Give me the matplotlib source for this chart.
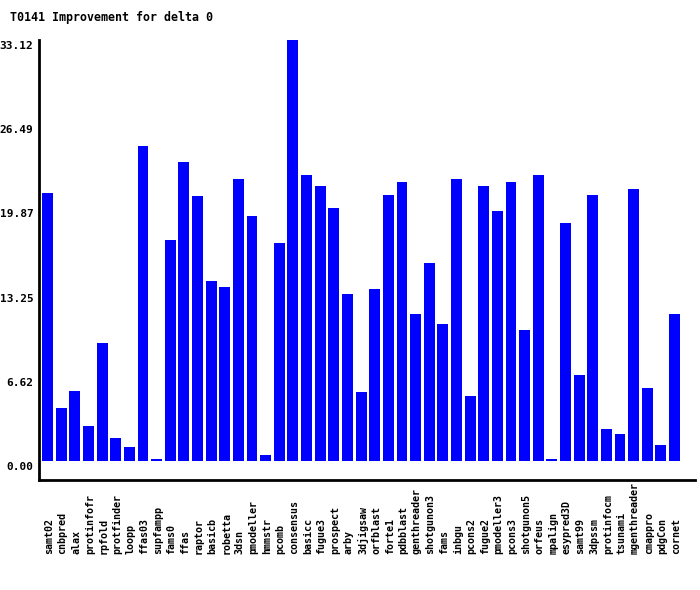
import numpy as np
import matplotlib.pyplot as plt
import matplotlib.transforms as mtransforms


names = ['samt02', 'cnbpred', 'alax', 'protinfofr', 'rpfold', 'protfinder', 'loopp',
         'ffas03', 'supfampp', 'fams0', 'ffas', 'raptor', 'basicb', 'robetta', '3dsn',
         'pmodeller', 'hmmstr', 'pcomb', 'consensus', 'basicc', 'fugue3', 'prospect',
         'arby', '3djigsaw', 'orfblast', 'forte1', 'pdbblast', 'genthreader',
         'shotgunon3', 'fams', 'inbgu', 'pcons2', 'fugue2', 'pmodeller3', 'pcons3',
         'shotgunon5', 'orfeus', 'mpalign', 'esypred3D', 'samt99', '3dpssm',
         'protinfocm', 'tsunami', 'mgenthreader', 'cmappro', 'pdgCon', 'cornet']
values = [21.06, 4.18, 5.52, 2.76, 9.31, 1.81, 1.10,
          24.76, 0.12, 17.35, 23.50, 20.82, 14.12, 13.72, 22.16,
          19.24, 0.47, 17.11, 33.12, 22.48, 21.60, 19.87,
          13.17, 5.44, 13.56, 20.90, 21.92, 11.59,
          15.54, 10.80, 22.16, 5.13, 21.60, 19.64, 21.92,
          10.33, 22.48, 0.12, 18.69, 6.78, 20.90,
          2.52, 2.13, 21.37, 5.76, 1.26, 11.59]
yticks = [0.00, 6.62, 13.25, 19.87, 26.49, 33.12]

mono = 'DejaVu Sans Mono'

fig = plt.figure(figsize=(7, 5.9), dpi=100)
ax = fig.add_axes([39 / 700, 1 - 480 / 590, 656 / 700, 440 / 590])

x = np.arange(len(names))
ax.bar(x, values, width=0.8, color='#0000ff')

ax.set_xlim(-0.63, len(names) + 0.5)
ax.set_ylim(-1.5, 33.12)

# labels read upward from a common baseline under the axis
ax.set_xticks([])
trans = mtransforms.blended_transform_factory(ax.transData, ax.transAxes)
for xi, name in zip(x, names):
    ax.text(xi + 0.1, (480 - 554) / 440, name, rotation=90, transform=trans,
            ha='center', va='bottom', family=mono, fontweight='bold', fontsize=7.2)

ax.set_yticks(yticks)
ax.set_yticklabels(['%.2f' % v for v in yticks], family=mono, fontweight='bold', fontsize=8)
ax.tick_params(axis='y', length=0, pad=4)
off = mtransforms.ScaledTranslation(0, -5 / 100, fig.dpi_scale_trans)
for lbl in ax.get_yticklabels():
    lbl.set_transform(lbl.get_transform() + off)

for s in ['top', 'right']:
    ax.spines[s].set_visible(False)
for s in ['left', 'bottom']:
    ax.spines[s].set_linewidth(2)

fig.text(10 / 700, 1 - 17 / 590, 'T0141 Improvement for delta 0', family=mono,
         fontweight='bold', fontsize=8.4, va='center', ha='left')

fig.savefig('out.png', dpi=100)
